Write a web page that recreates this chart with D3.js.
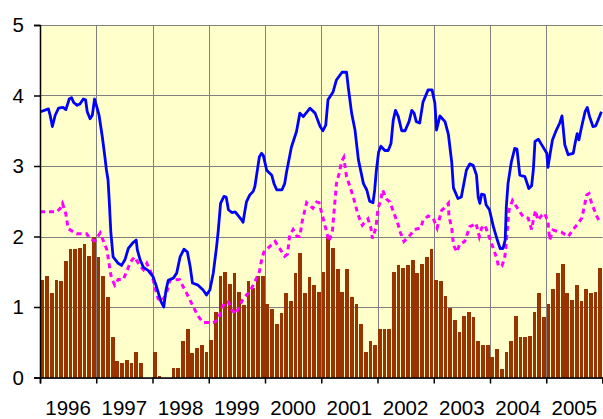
<!DOCTYPE html>
<html><head><meta charset="utf-8">
<script src="https://cdn.jsdelivr.net/npm/d3@7"></script>
<style>
html,body{margin:0;padding:0;background:#fff;}
text{font-family:Arial,"Liberation Sans",sans-serif;}
</style></head>
<body><svg id="c" width="603" height="419"></svg>
<script>
const years = [1996,1997,1998,1999,2000,2001,2002,2003,2004,2005];
const yTicks = [0,1,2,3,4,5];

// monthly bars Jan 1996 .. Dec 2005
const barValues = [
 1.38,1.44,1.20,1.38,1.37,1.65,1.82,1.82,1.84,1.89,1.72,2.00,
 1.71,1.44,1.14,0.58,0.23,0.20,0.25,0.20,0.36,0.20,0,0,
 0.36,0.02,0,0,0.13,0.13,0.52,0.69,0.35,0.42,0.46,0.36,
 0.53,0.93,1.44,1.50,1.33,1.48,1.21,1.03,1.37,1.27,1.44,1.44,
 1.04,0.97,0.76,0.91,1.20,1.08,1.48,1.77,1.20,1.43,1.31,1.21,
 1.50,2.00,1.84,1.54,1.21,1.54,1.14,1.04,0.76,0.36,0.52,0.46,
 0.69,0.69,0.69,1.50,1.60,1.55,1.60,1.67,1.48,1.61,1.71,1.82,
 1.38,1.37,1.16,0.99,0.82,0.65,0.87,0.93,0.86,0.52,0.46,0.46,
 0.29,0.40,0.12,0.36,0.52,0.87,0.57,0.57,0.59,0.93,1.20,0.86,
 1.04,1.26,1.48,1.61,1.20,1.10,1.31,1.08,1.26,1.20,1.21,1.55
];

// blue series: [decimal year, value]
const blueSeries = [
 [1996.01,3.77],[1996.15,3.81],[1996.18,3.72],[1996.22,3.56],[1996.27,3.72],[1996.33,3.82],
 [1996.41,3.83],[1996.46,3.80],[1996.52,3.95],[1996.56,3.97],[1996.60,3.90],[1996.66,3.86],
 [1996.71,3.88],[1996.77,3.95],[1996.81,3.94],[1996.84,3.77],[1996.89,3.67],[1996.93,3.72],
 [1996.97,3.95],[1997.01,3.84],[1997.05,3.72],[1997.08,3.56],[1997.11,3.40],[1997.15,3.15],
 [1997.18,2.95],[1997.21,2.80],[1997.23,2.52],[1997.26,2.05],[1997.30,1.71],[1997.39,1.62],
 [1997.45,1.59],[1997.51,1.67],[1997.57,1.83],[1997.65,1.91],[1997.71,1.95],[1997.73,1.81],
 [1997.78,1.67],[1997.84,1.56],[1997.92,1.52],[1998.01,1.43],[1998.07,1.29],[1998.15,1.08],
 [1998.20,1.00],[1998.24,1.24],[1998.28,1.38],[1998.37,1.41],[1998.43,1.48],[1998.49,1.71],
 [1998.56,1.82],[1998.62,1.78],[1998.67,1.57],[1998.71,1.34],[1998.81,1.31],[1998.90,1.24],
 [1998.96,1.17],[1999.02,1.24],[1999.08,1.48],[1999.14,1.86],[1999.17,2.09],[1999.21,2.47],
 [1999.27,2.57],[1999.31,2.56],[1999.35,2.38],[1999.41,2.34],[1999.47,2.35],[1999.52,2.30],
 [1999.58,2.24],[1999.61,2.20],[1999.64,2.35],[1999.67,2.49],[1999.73,2.59],[1999.79,2.64],
 [1999.82,2.71],[1999.86,2.92],[1999.90,3.13],[1999.94,3.18],[1999.97,3.15],[2000.03,2.94],
 [2000.12,2.87],[2000.16,2.75],[2000.21,2.66],[2000.30,2.66],[2000.35,2.75],[2000.38,2.90],
 [2000.47,3.27],[2000.56,3.49],[2000.62,3.75],[2000.68,3.70],[2000.80,3.82],[2000.89,3.75],
 [2000.98,3.56],[2001.03,3.50],[2001.08,3.58],[2001.12,3.94],[2001.21,4.05],[2001.27,4.22],
 [2001.37,4.33],[2001.45,4.33],[2001.48,4.12],[2001.54,3.75],[2001.60,3.51],[2001.66,3.09],
 [2001.75,2.75],[2001.81,2.66],[2001.86,2.50],[2001.92,2.48],[2001.95,2.66],[2001.98,2.94],
 [2002.02,3.20],[2002.06,3.28],[2002.13,3.22],[2002.19,3.22],[2002.24,3.32],[2002.28,3.65],
 [2002.32,3.79],[2002.37,3.70],[2002.43,3.50],[2002.49,3.50],[2002.56,3.63],[2002.61,3.79],
 [2002.65,3.75],[2002.69,3.63],[2002.75,3.61],[2002.81,3.91],[2002.90,4.08],[2002.97,4.08],
 [2003.02,3.89],[2003.05,3.51],[2003.11,3.71],[2003.20,3.63],[2003.26,3.45],[2003.32,3.05],
 [2003.35,2.69],[2003.43,2.54],[2003.49,2.56],[2003.58,2.94],[2003.64,3.03],[2003.70,3.01],
 [2003.76,2.87],[2003.79,2.56],[2003.82,2.47],[2003.85,2.60],[2003.90,2.59],[2003.93,2.45],
 [2003.99,2.38],[2004.06,2.14],[2004.13,1.95],[2004.18,1.83],[2004.23,1.83],[2004.27,1.95],
 [2004.29,2.42],[2004.32,2.75],[2004.38,3.06],[2004.44,3.25],[2004.48,3.24],[2004.53,2.87],
 [2004.62,2.85],[2004.69,2.68],[2004.74,2.72],[2004.77,2.94],[2004.80,3.35],[2004.86,3.38],
 [2004.92,3.30],[2005.01,3.18],[2005.03,2.98],[2005.06,3.13],[2005.11,3.37],[2005.18,3.51],
 [2005.24,3.61],[2005.28,3.71],[2005.33,3.30],[2005.39,3.16],[2005.48,3.18],[2005.52,3.35],
 [2005.55,3.46],[2005.58,3.37],[2005.63,3.56],[2005.69,3.77],[2005.73,3.83],[2005.77,3.70],
 [2005.83,3.56],[2005.88,3.57],[2005.92,3.65],[2005.98,3.77]
];

// magenta dashed series: [decimal year, value]
const pinkSeries = [
 [1996.00,2.35],[1996.30,2.35],[1996.36,2.40],[1996.40,2.47],[1996.46,2.32],[1996.49,2.16],
 [1996.50,2.11],[1996.65,2.04],[1996.83,2.04],[1996.89,1.96],[1996.98,1.94],[1997.07,2.05],
 [1997.19,1.81],[1997.24,1.55],[1997.27,1.41],[1997.33,1.31],[1997.39,1.39],[1997.48,1.39],
 [1997.55,1.52],[1997.61,1.64],[1997.68,1.71],[1997.78,1.58],[1997.84,1.53],[1997.90,1.62],
 [1997.99,1.46],[1998.04,1.29],[1998.10,1.12],[1998.16,1.08],[1998.24,1.17],[1998.31,1.38],
 [1998.48,1.39],[1998.55,1.28],[1998.61,1.19],[1998.74,0.98],[1998.81,0.87],[1998.90,0.78],
 [1999.08,0.78],[1999.17,0.82],[1999.22,0.96],[1999.29,1.07],[1999.35,1.07],[1999.41,0.96],
 [1999.48,0.90],[1999.54,1.00],[1999.60,1.10],[1999.67,1.17],[1999.73,1.22],[1999.79,1.31],
 [1999.85,1.41],[1999.90,1.50],[1999.94,1.67],[1999.98,1.78],[2000.10,1.87],[2000.18,1.93],
 [2000.35,1.72],[2000.40,1.75],[2000.44,2.02],[2000.50,2.10],[2000.57,2.00],[2000.62,2.00],
 [2000.66,2.21],[2000.74,2.48],[2000.85,2.40],[2000.92,2.49],[2000.96,2.48],[2001.01,2.33],
 [2001.10,2.05],[2001.14,1.93],[2001.20,2.09],[2001.24,2.47],[2001.27,2.75],[2001.32,2.90],
 [2001.36,3.06],[2001.40,3.12],[2001.45,2.85],[2001.50,2.73],[2001.57,2.56],[2001.64,2.35],
 [2001.69,2.23],[2001.73,2.16],[2001.78,2.21],[2001.83,2.25],[2001.88,2.13],[2001.91,1.97],
 [2001.97,2.12],[2002.01,2.40],[2002.06,2.52],[2002.09,2.66],[2002.16,2.53],[2002.22,2.49],
 [2002.37,2.16],[2002.40,2.07],[2002.47,1.93],[2002.58,2.02],[2002.66,2.10],[2002.77,2.12],
 [2002.81,2.23],[2002.90,2.29],[2002.99,2.26],[2003.06,2.12],[2003.10,2.25],[2003.14,2.37],
 [2003.22,2.43],[2003.26,2.47],[2003.27,2.29],[2003.32,2.12],[2003.35,1.88],[2003.41,1.78],
 [2003.46,1.89],[2003.55,1.93],[2003.64,2.14],[2003.70,2.16],[2003.75,2.19],[2003.81,2.00],
 [2003.85,2.12],[2003.91,2.16],[2004.00,1.96],[2004.06,1.83],[2004.12,1.69],[2004.15,1.58],
 [2004.21,1.58],[2004.26,1.69],[2004.28,1.83],[2004.32,2.21],[2004.34,2.38],[2004.40,2.51],
 [2004.53,2.35],[2004.59,2.28],[2004.68,2.26],[2004.74,2.10],[2004.77,2.23],[2004.81,2.37],
 [2004.85,2.23],[2004.92,2.30],[2004.97,2.33],[2005.03,2.21],[2005.06,1.95],[2005.12,2.09],
 [2005.21,2.07],[2005.27,2.06],[2005.39,2.00],[2005.48,2.10],[2005.57,2.19],[2005.63,2.26],
 [2005.67,2.40],[2005.72,2.59],[2005.76,2.61],[2005.80,2.49],[2005.89,2.30],[2005.95,2.21]
];

const svg = d3.select("#c");
const L = 40, R = 602.5, T = 25, B = 377.5;
const x = d3.scaleLinear().domain([1996, 2006]).range([L, R]);
const y = d3.scaleLinear().domain([0, 5]).range([B, T]);

// plot background
svg.append("rect").attr("x", L).attr("y", T).attr("width", R - L).attr("height", B - T).attr("fill", "#FFFFCC");

// gridlines
const grid = svg.append("g").attr("stroke", "#808080").attr("stroke-width", 1);
yTicks.forEach(t => grid.append("line").attr("x1", L).attr("x2", R).attr("y1", Math.round(y(t)) + 0.5).attr("y2", Math.round(y(t)) + 0.5));
years.concat([2006]).forEach(t => grid.append("line").attr("x1", Math.round(x(t)) + 0.5).attr("x2", Math.round(x(t)) + 0.5).attr("y1", T).attr("y2", B));

// bars
const months = barValues.map((v, i) => i);
const band = d3.scaleBand().domain(months).range([L, R]).paddingInner(0.2).paddingOuter(0.1);
svg.append("g").selectAll("rect").data(barValues).join("rect")
  .attr("x", (d, i) => band(i))
  .attr("width", band.bandwidth())
  .attr("y", d => y(d))
  .attr("height", d => B - y(d))
  .attr("fill", "#993300")
  .attr("shape-rendering", "crispEdges");

// lines
const line = d3.line().x(d => x(d[0])).y(d => y(d[1]));
svg.append("path").datum(pinkSeries).attr("d", line).attr("fill", "none")
  .attr("stroke", "#FF00FF").attr("stroke-width", 3).attr("stroke-dasharray", "5,4");
svg.append("path").datum(blueSeries).attr("d", line).attr("fill", "none")
  .attr("stroke", "#0000FF").attr("stroke-width", 2.8).attr("stroke-linejoin", "round");

// axes
const yAxis = d3.axisLeft(y).tickValues(yTicks).tickSize(6).tickPadding(10).tickFormat(d3.format("d"));
const gy = svg.append("g").attr("transform", `translate(${L},0)`).call(yAxis);
gy.select(".domain").attr("stroke", "#000").attr("stroke-width", 1.5);
gy.selectAll(".tick line").attr("stroke", "#000").attr("stroke-width", 1.5);
gy.selectAll("text").attr("font-size", 20.5).attr("fill", "#000").attr("font-family", "Arial, 'Liberation Sans', sans-serif");

const xAxis = d3.axisBottom(x).tickValues(years.concat([2006])).tickSize(6).tickFormat("");
const gx = svg.append("g").attr("transform", `translate(0,${B})`).call(xAxis);
gx.select(".domain").attr("stroke", "#000").attr("stroke-width", 1.5);
gx.selectAll(".tick line").attr("stroke", "#000").attr("stroke-width", 1.5);

svg.append("g").selectAll("text").data(years).join("text")
  .attr("x", d => x(d + 0.5))
  .attr("y", 415)
  .attr("text-anchor", "middle")
  .attr("font-size", 20.5)
  .attr("fill", "#000")
  .text(d => d);
</script>
</body></html>
